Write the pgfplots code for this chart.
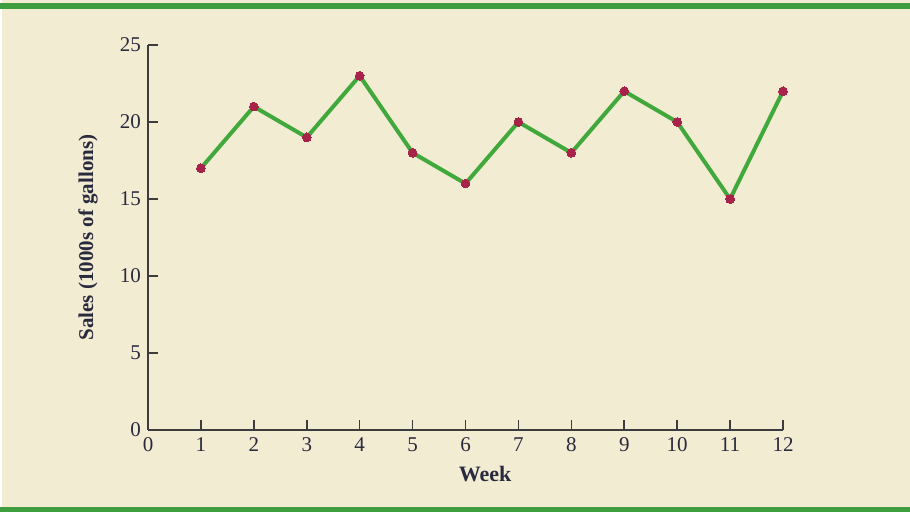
\documentclass[border=0pt]{standalone}
\usepackage{pgfplots}
\pgfplotsset{compat=1.18}
\usepackage{fontspec}
\setmainfont{Liberation Serif}

\definecolor{panelbg}{HTML}{F2ECD3}
\definecolor{bandgreen}{HTML}{3E9E3E}
\definecolor{linegreen}{HTML}{41A83C}
\definecolor{dotred}{HTML}{A8234A}
\definecolor{axisgray}{HTML}{3C3C3C}
\definecolor{labelink}{HTML}{2A2A3E}

\begin{document}
\begin{tikzpicture}[x=1pt,y=1pt]
  % panel and green bands
  \fill[white] (0,0) rectangle (455,256);
  \fill[panelbg] (1,0) rectangle (455,256);
  \fill[bandgreen] (0,251.5) rectangle (455,254.5);
  \fill[bandgreen] (0,0) rectangle (455,2.5);

  \begin{axis}[
    at={(74pt,41pt)}, anchor=south west,
    scale only axis,
    width=317.5pt, height=192.5pt,
    xmin=0, xmax=12, ymin=0, ymax=25,
    axis x line=bottom, axis y line=left,
    axis line style={-, draw=axisgray, line width=0.8pt},
    tick align=inside,
    major tick length=5pt,
    tick style={draw=axisgray, line width=0.8pt},
    xtick={0,1,...,12},
    ytick={0,5,...,25},
    /pgf/number format/assume math mode=true,
    tick label style={font=\fontsize{10.5}{12}\selectfont, text=labelink},
    xticklabel style={text height=7pt, text depth=0pt},
    clip=false,
    xlabel={\textbf{Week}},
    ylabel={\textbf{Sales (1000s of gallons)}},
    every axis x label/.style={at={(axis description cs:0.531,0)}, anchor=center,
      yshift=-22pt, font=\fontsize{11}{13}\selectfont, text=labelink},
    every axis y label/.style={at={(axis description cs:0,0.5)}, rotate=90,
      anchor=center, yshift=30pt, font=\fontsize{10.5}{12}\selectfont, text=labelink},
  ]
    \addplot[color=linegreen, line width=2pt,
      mark=*, mark size=2.2pt,
      mark options={fill=dotred, draw=dotred, line width=0pt}]
      coordinates {
        (1,17) (2,21) (3,19) (4,23) (5,18) (6,16)
        (7,20) (8,18) (9,22) (10,20) (11,15) (12,22)
      };
  \end{axis}
\end{tikzpicture}
\end{document}
